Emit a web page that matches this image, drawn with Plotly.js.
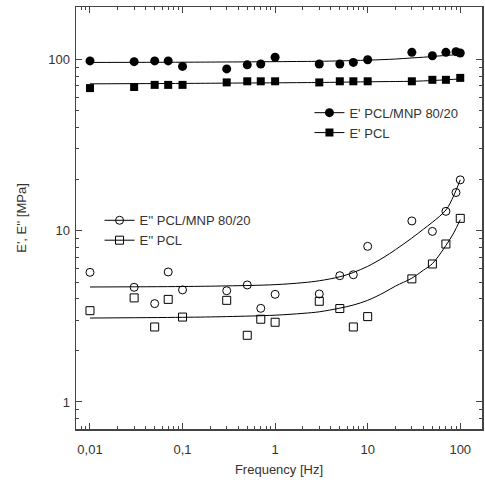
<!DOCTYPE html>
<html><head><meta charset="utf-8">
<script src="https://cdn.plot.ly/plotly-3.0.1.min.js"></script>
<style>html,body{margin:0;padding:0;background:#fff}#chart{width:485px;height:483px}</style>
</head><body><div id="chart"></div>
<script>
// Frequencies [Hz]
const freqA = [0.01,0.03,0.05,0.07,0.1,0.3,0.5,0.7,1,3,5,7,10,30,50,70,90,100];
const freqB = [0.01,0.03,0.05,0.07,0.1,0.3,0.5,0.7,1,3,5,7,10,30,50,70,100];
// E' storage modulus [MPa]
const eStoreMNP = [98,97,98,98,91,88,93,94,103,94,94,96,99.6,110,105,110,111,109];
const eStorePCL = [68,69,71,71,71,73.4,74.5,74.5,74.5,73.4,74.5,74.5,74.5,74.5,76,76,78];
// E'' loss modulus [MPa]
const eLossMNP = [5.71,4.67,3.75,5.74,4.51,4.46,4.82,3.52,4.25,4.27,5.46,5.53,8.1,11.4,9.9,12.97,16.7,19.8];
const eLossPCL = [3.41,4.05,2.74,3.97,3.13,3.92,2.45,3.04,2.92,3.87,3.51,2.74,3.15,5.23,6.39,8.36,11.8];
// fitted curves
const fitFreq      = [0.01,0.1,0.3,1,2,3,5,7,10,15,20,30,40,50,70,85,100];
const fitStoreMNP  = [96,96.3,96.6,97,97.3,97.5,98,98.5,99,99.8,100.5,102,103,104,105.5,106.3,107];
const fitStorePCL  = [72,72.4,72.7,73,73.2,73.3,73.6,73.8,74,74.2,74.3,74.5,74.9,75.3,76,76.5,77];
const fitLossMNP   = [4.69,4.72,4.76,4.84,4.97,5.1,5.38,5.7,6.19,7.0,7.75,9.06,10.2,11.2,13.2,16.0,19.8];
const fitLossPCL   = [3.09,3.12,3.15,3.21,3.29,3.36,3.53,3.68,3.92,4.35,4.75,5.28,5.88,6.42,8.2,9.7,11.6];
const xTickVals = [0.01,0.1,1,10,100];
const xTickText = ['0,01','0,1','1','10','100'];
const yTickVals = [1,10,100];
const yTickText = ['1','10','100'];
const legendNames = ["E' PCL/MNP 80/20","E' PCL","E'' PCL/MNP 80/20","E'' PCL"];

function minorVals(lo, hi){const v=[];for(let e=lo;e<=hi;e++){for(let k=2;k<=9;k++)v.push(k*Math.pow(10,e));}return v;}

const lineStyle = {color:'#000', width:1};
const traces = [
  {x:fitFreq,y:fitStoreMNP,mode:'lines',line:Object.assign({shape:'spline'},lineStyle),showlegend:false,hoverinfo:'skip'},
  {x:fitFreq,y:fitStorePCL,mode:'lines',line:Object.assign({shape:'spline'},lineStyle),showlegend:false,hoverinfo:'skip'},
  {x:fitFreq,y:fitLossMNP,mode:'lines',line:Object.assign({shape:'spline'},lineStyle),showlegend:false,hoverinfo:'skip'},
  {x:fitFreq,y:fitLossPCL,mode:'lines',line:Object.assign({shape:'spline'},lineStyle),showlegend:false,hoverinfo:'skip'},
  {x:freqA,y:eStoreMNP,mode:'markers',marker:{symbol:'circle',size:9,color:'#000'},showlegend:false},
  {x:freqB,y:eStorePCL,mode:'markers',marker:{symbol:'square',size:8,color:'#000'},showlegend:false},
  {x:freqA,y:eLossMNP,mode:'markers',marker:{symbol:'circle-open',size:8,color:'#000',line:{width:1}},showlegend:false},
  {x:freqB,y:eLossPCL,mode:'markers',marker:{symbol:'square-open',size:8,color:'#000',line:{width:1}},showlegend:false},
  // legend entries
  {x:[null],y:[null],name:legendNames[0],mode:'lines+markers',line:lineStyle,marker:{symbol:'circle',size:9,color:'#000'},legend:'legend'},
  {x:[null],y:[null],name:legendNames[1],mode:'lines+markers',line:lineStyle,marker:{symbol:'square',size:8,color:'#000'},legend:'legend'},
  {x:[null],y:[null],name:legendNames[2],mode:'lines+markers',line:lineStyle,marker:{symbol:'circle-open',size:8,color:'#000',line:{width:1}},legend:'legend2'},
  {x:[null],y:[null],name:legendNames[3],mode:'lines+markers',line:lineStyle,marker:{symbol:'square-open',size:8,color:'#000',line:{width:1}},legend:'legend2'}
];

const font = {family:'Liberation Sans, Arial, sans-serif', size:13, color:'#333'};
const layout = {
  width:485, height:483,
  margin:{l:76,r:3,t:7,b:54},
  paper_bgcolor:'#fff', plot_bgcolor:'#fff',
  font:font,
  showlegend:true,
  xaxis:{type:'log', range:[-2.151,2.235], tickmode:'array', tickvals:xTickVals, ticktext:xTickText,
    ticks:'inside', ticklen:6, tickcolor:'#444', showline:true, linecolor:'#444', linewidth:1.5, mirror:'allticks',
    showgrid:false, zeroline:false, tickfont:{size:13,color:'#333'}, ticklabelstandoff:8,
    minor:{tickmode:'array', tickvals:minorVals(-3,2), ticks:'inside', ticklen:3, tickcolor:'#444', showgrid:false},
    title:{text:'Frequency [Hz]', font:{size:13,color:'#333'}, standoff:9}},
  yaxis:{type:'log', range:[-0.158,2.306], tickmode:'array', tickvals:yTickVals, ticktext:yTickText,
    ticks:'inside', ticklen:6, tickcolor:'#444', showline:true, linecolor:'#444', linewidth:1.5, mirror:'allticks',
    showgrid:false, zeroline:false, tickfont:{size:13,color:'#333'}, ticklabelstandoff:2,
    minor:{tickmode:'array', tickvals:minorVals(-1,2), ticks:'inside', ticklen:3, tickcolor:'#444', showgrid:false},
    title:{text:"E', E'' [MPa]", font:{size:13,color:'#333'}, standoff:18}},
  legend:{x:0.575, y:0.785, xanchor:'left', yanchor:'top', bgcolor:'rgba(0,0,0,0)', font:{size:13,color:'#333'}, itemwidth:30, tracegroupgap:0},
  legend2:{x:0.058, y:0.53, xanchor:'left', yanchor:'top', bgcolor:'rgba(0,0,0,0)', font:{size:13,color:'#333'}, itemwidth:30, tracegroupgap:0}
};
Plotly.newPlot('chart', traces, layout, {displayModeBar:false, staticPlot:true});
</script></body></html>
